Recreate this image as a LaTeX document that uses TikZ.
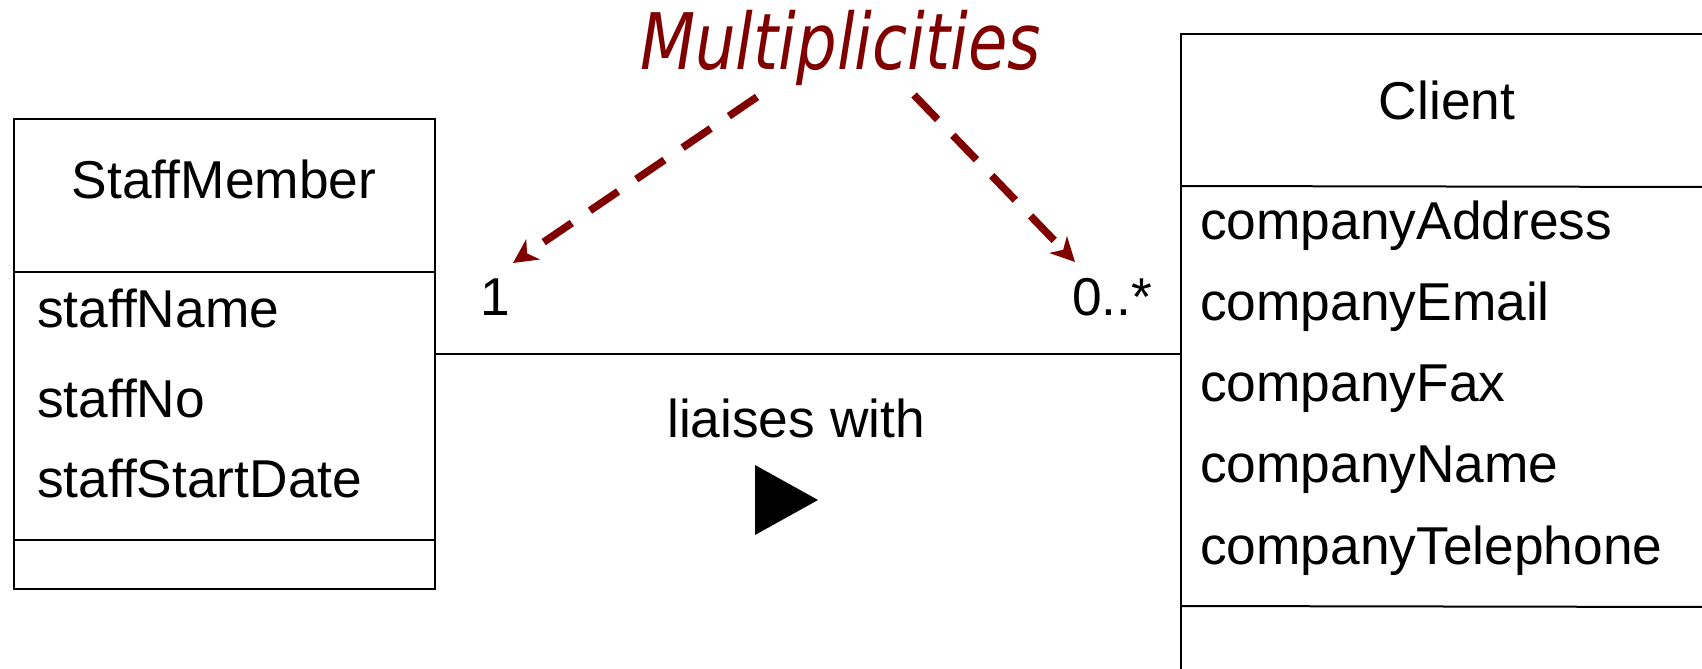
\documentclass[tikz,border=0pt]{standalone}
\usepackage{fontspec}
\setmainfont{Liberation Sans}
\newfontfamily\multfont{DejaVu Sans}
\usetikzlibrary{arrows.meta}
\definecolor{multred}{RGB}{128,0,0}
\begin{document}
\begin{tikzpicture}[x=1pt,y=-1pt,
  font=\fontsize{53.3}{60}\selectfont,
  umlbox/.style={draw, line width=2pt, rectangle, inner sep=0pt, anchor=north west},
  attr/.style={anchor=base west, inner sep=0pt},
  divider/.style={line width=2pt},
  multarrow/.style={draw=multred, line width=7.5pt, dash pattern=on 34pt off 22pt,
     -{Stealth[length=24pt,width=24pt,inset=7pt]}}]
\useasboundingbox (0,0) rectangle (1702,669);
\clip (0,0) rectangle (1702,669);
\fill[white] (0,0) rectangle (1702,669);

% StaffMember class
\node[umlbox, minimum width=421pt, minimum height=470pt] (staff) at (13,118) {};
\draw[divider] (13,272) -- (434,272);
\draw[divider] (13,540) -- (434,540);
\node[anchor=base, inner sep=0pt] (staffttl) at (224,198) {StaffMember};
\node[attr] (sname) at (37,327) {staffName};
\node[attr] (sno) at (37,417) {staffNo};
\node[attr] (sdate) at (37,497) {staffStartDate};

% Client class
\node[umlbox, minimum width=534pt, minimum height=700pt] (client) at (1180,33) {};
\draw[divider] (1180,186) -- (1714,187);
\draw[divider] (1180,606) -- (1714,607);
\node[anchor=base, inner sep=0pt] (clientttl) at (1447,119) {Client};
\node[attr] (caddr) at (1200,239) {companyAddress};
\node[attr] (cmail) at (1200,320) {companyEmail};
\node[attr] (cfax) at (1200,401) {companyFax};
\node[attr] (cname) at (1200,482) {companyName};
\node[attr] (ctel) at (1200,564) {companyTelephone};

% association
\draw[line width=2pt] (staff.east) -- (staff.east -| client.west);
\node[attr] (mone) at (480,315) {1};
\node[attr] (mmany) at (1072,315) {0..*};
\node[attr] (assoc) at (667,437) {liaises with};
\fill (755,465) -- (755,535) -- (818,500) -- cycle;

% Multiplicities callout
\node[anchor=base west, inner sep=0pt, text=multred,
      font=\multfont\itshape\fontsize{78}{90}\selectfont] (mult) at (640,70)
      {\scalebox{0.82}[1]{Multiplicities}};
\coordinate (ms1) at (757,97);
\coordinate (mt1) at (513,263);
\coordinate (ms2) at (914,95);
\coordinate (mt2) at (1075,262);
\draw[multarrow] (ms1) -- (mt1);
\draw[multarrow] (ms2) -- (mt2);
\end{tikzpicture}
\end{document}
